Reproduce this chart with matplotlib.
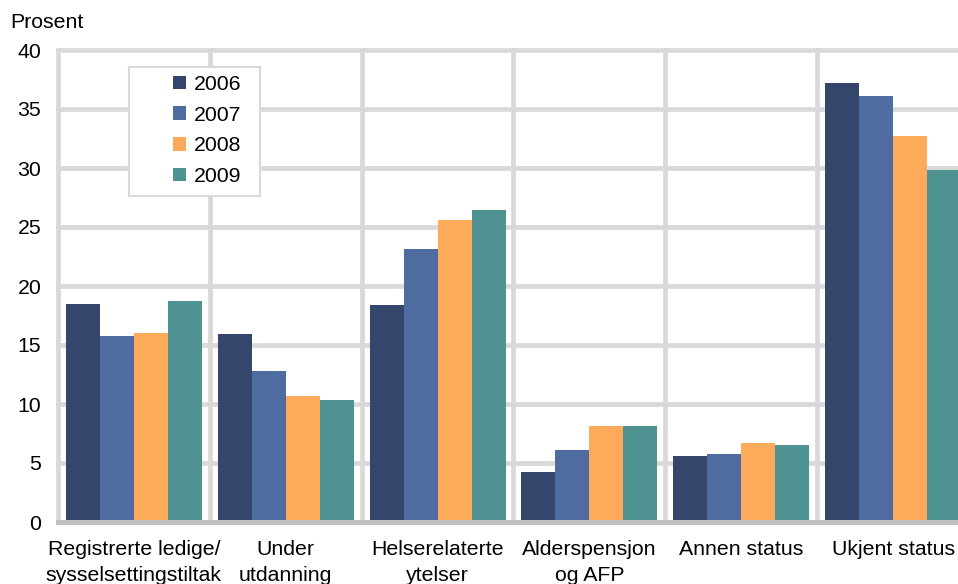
import matplotlib.pyplot as plt
import numpy as np
from matplotlib.patches import Rectangle

plt.rcParams['font.family'] = ['Liberation Sans', 'DejaVu Sans']

categories = ["Registrerte ledige/\nsysselsettingstiltak", "Under\nutdanning",
              "Helserelaterte\nytelser", "Alderspensjon\nog AFP",
              "Annen status", "Ukjent status"]
years = ["2006", "2007", "2008", "2009"]
v2006 = [18.5, 15.9, 18.4, 4.2, 5.6, 37.2]
v2007 = [15.8, 12.8, 23.1, 6.1, 5.8, 36.1]
v2008 = [16.0, 10.7, 25.6, 8.1, 6.7, 32.7]
v2009 = [18.7, 10.3, 26.4, 8.1, 6.5, 29.8]
colors = ["#34466b", "#4f6ca1", "#fdaa5a", "#4e9391"]

W, H = 958, 584
fs = 15.3
fig = plt.figure(figsize=(W / 100, H / 100), dpi=100)
ax = fig.add_axes([58 / W, 1 - 522 / H, (969 - 58) / W, (522 - 50) / H])

x = np.arange(len(categories))
bw = 0.224
series = [v2006, v2007, v2008, v2009]
bars = []
for i, vals in enumerate(series):
    b = ax.bar(x + (i - 1.5) * bw, vals, bw, color=colors[i], label=years[i], zorder=3)
    bars.append(b)

ax.set_xlim(-0.5, len(categories) - 0.5)
ax.set_ylim(0, 40)
ax.set_yticks(range(0, 41, 5))
ax.set_xticks(x)
ax.set_xticklabels(categories, fontsize=fs, linespacing=1.45)
ax.set_xticks(np.arange(-0.5, len(categories), 1), minor=True)
ax.tick_params(axis='y', length=0, pad=12, labelsize=fs)
ax.tick_params(axis='x', which='both', length=0, pad=13)

grid_c = "#d9d9d9"
ax.grid(axis='y', color=grid_c, linewidth=3.4, zorder=0)
ax.grid(axis='x', which='minor', color=grid_c, linewidth=3.4, zorder=0)
ax.grid(axis='x', which='major', visible=False)
ax.set_axisbelow(True)
for t in ax.yaxis.get_major_ticks() + ax.xaxis.get_minor_ticks():
    t.gridline.set_clip_on(False)

for s in ['top', 'right', 'left']:
    ax.spines[s].set_visible(False)
ax.spines['bottom'].set_color("#c0c0c0")
ax.spines['bottom'].set_linewidth(3.6)
ax.spines['bottom'].set_zorder(4)

fig.text(10 / W, 1 - 22 / H, "Prosent", fontsize=fs, va='center', ha='left')

fig.patches.append(Rectangle((129 / W, 1 - 196 / H), 131 / W, 129 / H,
                             transform=fig.transFigure, facecolor='white',
                             edgecolor=grid_c, linewidth=1.5, zorder=5))
leg = fig.legend(handles=bars, labels=years, loc='upper left',
                 bbox_to_anchor=(158 / W, 1 - 60 / H), frameon=False,
                 fontsize=fs, handlelength=0.62, handleheight=0.62,
                 handletextpad=0.35, labelspacing=0.55, borderpad=0.2)

fig.savefig("out.png", dpi=100)
